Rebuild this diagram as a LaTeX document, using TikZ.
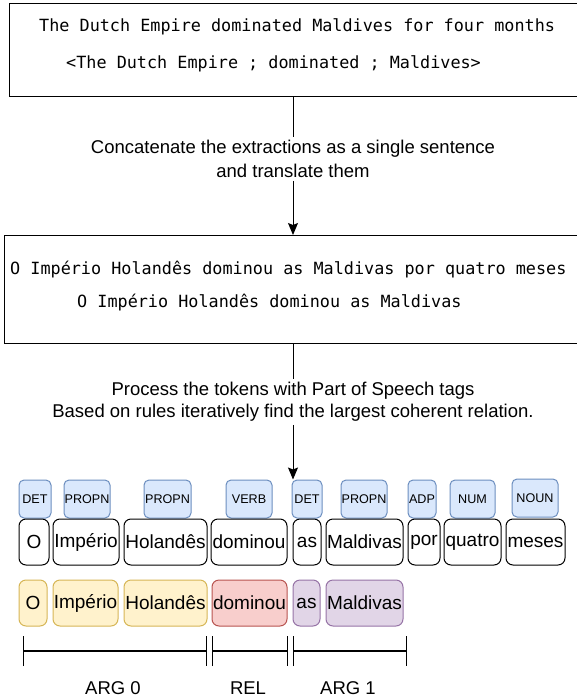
\documentclass[tikz,border=0pt]{standalone}
\usepackage{fontspec}
\setmainfont{Liberation Sans}
\newfontfamily\monof{DejaVu Sans Mono}
\usetikzlibrary{arrows.meta}
\definecolor{bluef}{HTML}{DAE8FC}\definecolor{blued}{HTML}{6C8EBF}
\definecolor{yelf}{HTML}{FFF2CC}\definecolor{yeld}{HTML}{D6B656}
\definecolor{redf}{HTML}{F8CECC}\definecolor{redd}{HTML}{B85450}
\definecolor{purf}{HTML}{E1D5E7}\definecolor{purd}{HTML}{9673A6}
\tikzset{
  bigbox/.style={draw, line width=1.1pt, inner sep=0pt, anchor=north west},
  mono/.style={font=\monof\fontsize{16.8}{20}\selectfont, inner sep=0pt, anchor=west},
  lab/.style={align=center, inner sep=3pt},
  postag/.style={draw=blued, fill=bluef, line width=1pt, rounded corners=5pt, inner sep=0pt, minimum height=38pt, font=\fontsize{12.6}{14}\selectfont},
  tokbase/.style={line width=1pt, rounded corners=7pt, inner sep=0pt, minimum height=46pt, font=\fontsize{19}{22}\selectfont},
  tok/.style={tokbase, draw=black},
  a0/.style={tokbase, draw=yeld, fill=yelf},
  rl/.style={tokbase, draw=redd, fill=redf},
  a1/.style={tokbase, draw=purd, fill=purf},
  flow/.style={line width=1pt},
  brk/.style={line width=1.2pt, {Bar[width=30pt,line width=1.2pt]}-{Bar[width=30pt,line width=1.2pt]}},
  arglab/.style={font=\fontsize{18.5}{20}\selectfont, inner sep=0pt}
}
\begin{document}
\begin{tikzpicture}[x=1pt,y=-1pt]
\useasboundingbox (0,0) rectangle (576,699);
% top box
\node[bigbox, minimum width=590pt, minimum height=93pt] (box1) at (9,3) {};
\node[mono] (e1) at (39,26.5) {The Dutch Empire dominated Maldives for four months};
\node[mono] (e2) at (66,64) {<The Dutch Empire ; dominated ; Maldives>};
% second box
\node[bigbox, minimum width=590pt, minimum height=108pt] (box2) at (4,235) {};
\node[mono] (s1) at (10,270) {O Império Holandês dominou as Maldivas por quatro meses};
\node[mono] (s2) at (77,303) {O Império Holandês dominou as Maldivas};
% labels
\node[lab, font=\fontsize{18.5}{24}\selectfont] (l1) at (293,159) {Concatenate the extractions as a single sentence\\and translate them};
\node[lab, font=\fontsize{18.5}{22}\selectfont] (l2) at (293,402) {Process the tokens with Part of Speech tags\\Based on rules iteratively find the largest coherent relation.};
% pos tags
\node[postag, minimum width=32pt] (p1) at (35,499) {DET};
\node[postag, minimum width=46pt] (p2) at (87,499) {PROPN};
\node[postag, minimum width=47pt] (p3) at (167.5,499) {PROPN};
\node[postag, minimum width=46pt] (p4) at (249,499) {VERB};
\node[postag, minimum width=30pt] (p5) at (307,499) {DET};
\node[postag, minimum width=46pt] (p6) at (364,499) {PROPN};
\node[postag, minimum width=28pt] (p7) at (422,499) {ADP};
\node[postag, minimum width=45pt] (p8) at (472.5,499) {NUM};
\node[postag, minimum width=46pt] (p9) at (535,498) {NOUN};
% tokens
\node[tok, minimum width=30pt] (t1) at (34,542) {O};
\node[tok, minimum width=66pt] (t2) at (86,542) {Império};
\node[tok, minimum width=83pt] (t3) at (165.5,542) {Holandês};
\node[tok, minimum width=76pt] (t4) at (249,542) {dominou};
\node[tok, minimum width=28pt] (t5) at (307,542) {as};
\node[tok, minimum width=77pt] (t6) at (364.5,542) {Maldivas};
\node[tok, minimum width=32pt] (t7) at (424,542) {por};
\node[tok, minimum width=57pt] (t8) at (472.5,542) {quatro};
\node[tok, minimum width=59pt] (t9) at (535.5,542) {meses};
% relation
\node[a0, minimum width=28pt] (b1) at (33,603) {O};
\node[a0, minimum width=65pt] (b2) at (85.5,603) {Império};
\node[a0, minimum width=83pt] (b3) at (165.5,603) {Holandês};
\node[rl, minimum width=75pt] (b4) at (249.5,603) {dominou};
\node[a1, minimum width=27pt] (b5) at (306.5,603) {as};
\node[a1, minimum width=77pt] (b6) at (364.5,603) {Maldivas};
% flow connectors
\draw[flow] (l1.north |- box1.south) -- (l1.north);
\draw[flow, -{Stealth[length=12pt,width=10pt,inset=2pt]}] (l1.south) -- (l1.south |- box2.north);
\draw[flow] (l2.north |- box2.south) -- (l2.north);
\draw[flow, -{Stealth[length=12pt,width=10pt,inset=2pt]}] (l2.south) -- (l2.south |- p5.north);
% brackets
\coordinate (g0a) at (23,651); \coordinate (g0b) at (207,651);
\coordinate (g1a) at (212,651); \coordinate (g1b) at (288,651);
\coordinate (g2a) at (293,651); \coordinate (g2b) at (407,651);
\draw[brk] (g0a) -- (g0b);
\draw[brk] (g1a) -- (g1b);
\draw[brk] (g2a) -- (g2b);
\node[arglab] (n0) at (113,688) {ARG 0};
\node[arglab] (n1) at (248,688) {REL};
\node[arglab] (n2) at (348,688) {ARG 1};
\end{tikzpicture}
\end{document}
